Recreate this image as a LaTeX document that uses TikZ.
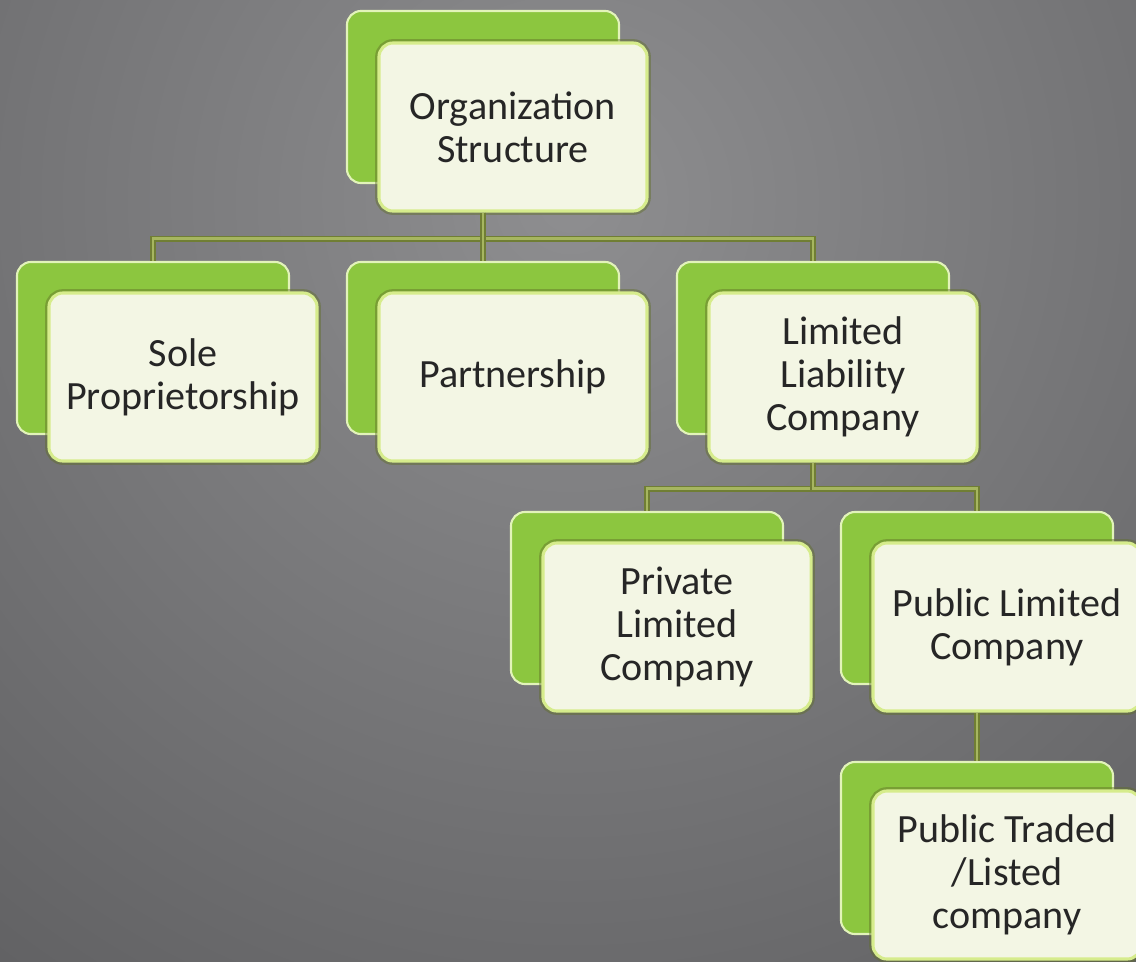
\documentclass[tikz,border=0pt]{standalone}
\usepackage{fontspec}
\setmainfont{Carlito}
\usepackage{tikz}
\usetikzlibrary{positioning}
\definecolor{bgmid}{RGB}{142,142,144}
\definecolor{bgedge}{RGB}{54,54,56}
\definecolor{leafgreen}{RGB}{140,198,63}
\definecolor{leafrim}{RGB}{226,243,186}
\definecolor{cardfill}{RGB}{243,246,228}
\definecolor{cardrim}{RGB}{214,236,140}
\definecolor{cardhalo}{RGB}{96,110,40}
\definecolor{stemolive}{RGB}{112,126,52}
\definecolor{stemlight}{RGB}{166,182,96}

\begin{document}
\begin{tikzpicture}[
  x=0.025cm, y=-0.025cm,
  backbox/.style={rectangle, rounded corners=10pt, minimum width=6.8cm, minimum height=4.3cm, fill=leafgreen, draw=leafrim, line width=1.5pt},
  cardbox/.style={rectangle, rounded corners=10pt, minimum width=6.7cm, minimum height=4.2cm, fill=cardfill, draw=cardrim, line width=2.2pt, align=center, text=black!85, font=\fontsize{28.5}{30.5}\selectfont,
    preaction={draw=cardhalo, line width=5.5pt, opacity=0.45}},
  stem/.style={draw=stemolive, line width=1.3pt, double=stemlight, double distance=1.6pt}
]
\useasboundingbox (0,0) rectangle (1136,961);

% gray backdrop, lighter near the top
\begin{scope}
  \clip (0,0) rectangle (1136,961);
  \shade[inner color=bgmid, outer color=bgedge] (-1330,-1700) rectangle (2470,2100);
\end{scope}

% back plates
\node[backbox] (org-b)   at (483,97)  {};
\node[backbox] (sole-b)  at (153,348) {};
\node[backbox] (part-b)  at (483,348) {};
\node[backbox] (llc-b)   at (813,348) {};
\node[backbox] (priv-b)  at (647,598) {};
\node[backbox] (publ-b)  at (977,598) {};
\node[backbox] (trade-b) at (977,848) {};

% front cards
\node[cardbox] (org)   at (513,127) {Organization\\Structure};
\node[cardbox] (sole)  at (183,377) {Sole\\Proprietorship};
\node[cardbox] (part)  at (513,377) {Partnership};
\node[cardbox] (llc)   at (843,377) {Limited\\Liability\\Company};
\node[cardbox] (priv)  at (677,627) {Private\\Limited\\Company};
\node[cardbox] (publ)  at (1007,627) {Public Limited\\Company};
\node[cardbox] (trade) at (1007,875) {Public Traded\\/Listed\\company};

% connectors
\draw[stem] (org.south -| org-b.center) -- ++(0,26) -| (sole-b.north);
\draw[stem] (org.south -| org-b.center) -- ++(0,26) -| (llc-b.north);
\draw[stem] (org.south -| org-b.center) -- (part-b.north);
\draw[stem] (llc.south -| llc-b.center) -- ++(0,26) -| (priv-b.north);
\draw[stem] (llc.south -| llc-b.center) -- ++(0,26) -| (publ-b.north);
\draw[stem] (publ.south -| publ-b.center) -- (trade-b.north);
\end{tikzpicture}
\end{document}
